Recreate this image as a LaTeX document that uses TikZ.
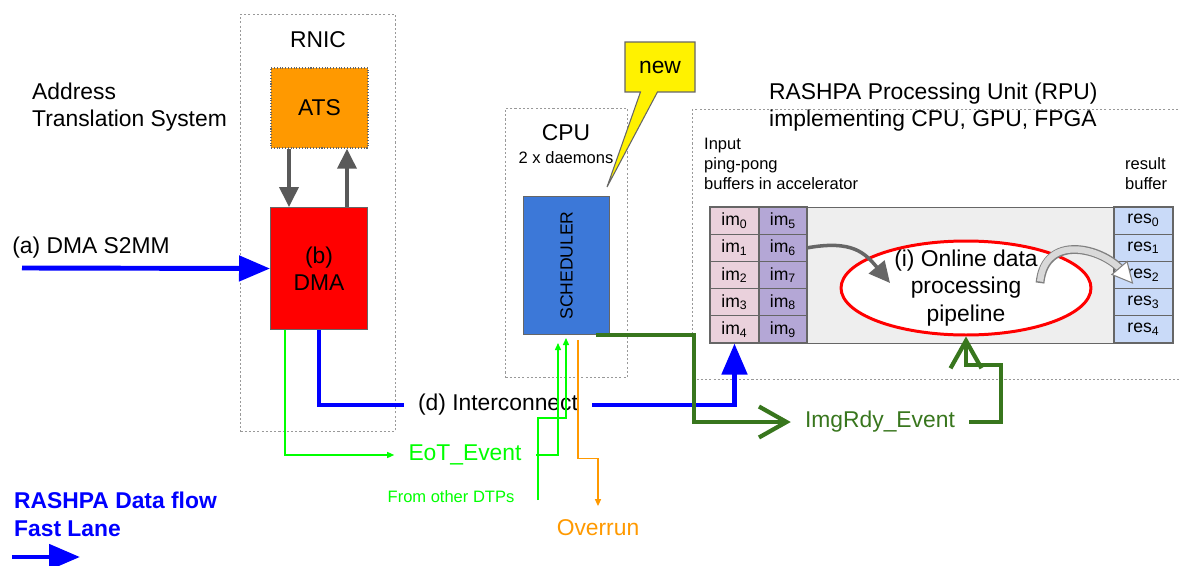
\documentclass[tikz,border=0pt]{standalone}
\usepackage{fontspec}
\setmainfont{Liberation Sans}
\usetikzlibrary{arrows.meta, positioning, shapes.geometric, shapes.callouts}

\definecolor{atsorange}{HTML}{FF9900}
\definecolor{schedblue}{HTML}{3C78D8}
\definecolor{impink}{HTML}{EAD1DC}
\definecolor{impurple}{HTML}{B4A7D6}
\definecolor{resblue}{HTML}{C9DAF8}
\definecolor{accelgray}{HTML}{EEEEEE}
\definecolor{boxline}{HTML}{666666}
\definecolor{arrowgray}{HTML}{595959}
\definecolor{rdygreen}{HTML}{38761D}
\definecolor{eotgreen}{HTML}{00FF00}
\definecolor{ovrorange}{HTML}{FF9900}

\tikzset{
  region/.style={draw=gray!80, dash pattern=on 1.2pt off 1.2pt, line width=0.5pt, anchor=north west},
  block/.style={draw=boxline, line width=0.6pt, anchor=north west, inner sep=0pt},
  cell/.style={draw=boxline, line width=0.6pt, minimum height=0.544cm, inner sep=0pt, font=\fontsize{10}{12}\selectfont},
  lbl/.style={font=\fontsize{13}{15.5}\selectfont},
  note/.style={font=\fontsize{9.4}{11.3}\selectfont},
  evt/.style={lbl, inner xsep=0.28cm, inner ysep=0.05cm},
  lane/.style={blue, line width=2.8pt, -{Triangle[length=0.62cm,width=0.5cm]}},
  lanewire/.style={blue, line width=2.8pt},
  atsarrow/.style={arrowgray, line width=2.2pt, -{Triangle[length=0.4cm,width=0.38cm]}},
  eotwire/.style={eotgreen, line width=0.6pt, -{Triangle[length=4pt,width=3.5pt]}},
  ovrwire/.style={ovrorange, line width=0.6pt, -{Triangle[length=4pt,width=3.5pt]}},
  rdywire/.style={rdygreen, line width=2.4pt, -{Straight Barb[length=0.55cm,width=0.62cm]}},
}

\begin{document}
\begin{tikzpicture}[x=0.02cm, y=-0.02cm]
\useasboundingbox (0,0) rectangle (1180,565);

% RNIC
\node[region, minimum width=3.1cm, minimum height=8.34cm] (rnic) at (240,14) {};
\node[lbl] (rnictitle) at (318,40) {RNIC};
\node[lbl, align=left, anchor=west] (atstitle) at (26,107) {Address\\Translation System};
\node[block, fill=atsorange, densely dotted, line width=1pt, minimum width=1.94cm, minimum height=1.6cm, lbl] (ats) at (270,67) {ATS};
\node[block, fill=red, minimum width=1.94cm, minimum height=2.44cm, lbl, align=center] (dma) at (270,207) {(b)\\DMA};

% CPU
\node[region, minimum width=2.44cm, minimum height=5.38cm] (cpu) at (505,108) {};
\node[lbl] (cputitle) at (566,133) {CPU};
\node[note] (daemons) at (566,158) {2 x daemons};
\node[block, fill=schedblue, minimum width=1.72cm, minimum height=2.76cm] (sched) at (523,196) {};
\node[rotate=90, font=\fontsize{10}{12}\selectfont] (schedtext) at (sched.center) {SCHEDULER};
\node[rectangle callout, draw=boxline, fill=yellow, line width=0.6pt, callout absolute pointer={(607,187)}, callout pointer width=0.34cm, minimum width=1.4cm, minimum height=1cm, lbl] (newnote) at (660,67) {new};

% RPU
\node[region, minimum width=9.96cm, minimum height=5.4cm] (rpu) at (692,109) {};
\node[lbl, align=left, anchor=west] (rputitle) at (763,107) {RASHPA Processing Unit (RPU)\\implementing CPU, GPU, FPGA};
\node[note, align=left, anchor=west] (inputnote) at (698,164) {Input\\ping-pong\\buffers in accelerator};
\node[note, align=left, anchor=west] (resnote) at (1119,174) {result\\buffer};
\node[block, fill=accelgray, minimum width=9.26cm, minimum height=2.72cm] (accel) at (710,207) {};
\foreach \i [evaluate=\i as \j using int(\i+5)] in {0,...,4} {
  \node[cell, fill=impink, minimum width=0.98cm] (im\i) at (734.5,220.6+27.2*\i) {im\textsubscript{\i}};
  \node[cell, fill=impurple, minimum width=0.96cm] (im\j) at (783,220.6+27.2*\i) {im\textsubscript{\j}};
  \node[cell, fill=resblue, minimum width=1.18cm] (res\i) at (1143.5,220.6+27.2*\i) {res\textsubscript{\i}};
}
\node[ellipse, draw=red, line width=1.7pt, fill=white, minimum width=5cm, minimum height=1.88cm] (pipe) at (966,288) {};
\node[lbl, align=center] (pipetext) at (pipe.center) {(i) Online data\\processing\\pipeline};

% labels
\node[lbl] (s2mmtext) at (91,248) {(a) DMA S2MM};
\node[evt] (inter) at (498,405) {(d) Interconnect};
\node[evt, text=eotgreen] (eot) at (465,455) {EoT\_Event};
\node[evt, text=rdygreen] (rdy) at (880,422) {ImgRdy\_Event};
\node[evt, text=ovrorange] (ovr) at (598,528) {Overrun};
\node[note, text=eotgreen] (dtp) at (451,497) {From other DTPs};
\node[font=\fontsize{13}{15.9}\selectfont\bfseries, text=blue, align=left, anchor=west] (legend) at (8,514) {RASHPA Data flow\\Fast Lane};

% connectors
\coordinate (s2mm) at (22,268);
\coordinate (dtpin) at (538,500);
\coordinate (leg0) at (12,557);
\coordinate (leg1) at (80,557);
\draw[lane] (s2mm) -- (dma.west);
\draw[atsarrow] ([xshift=0.38cm]ats.south west) -- ([xshift=0.38cm]dma.north west);
\draw[atsarrow] ([xshift=1.54cm]dma.north west) -- ([xshift=1.54cm]ats.south west);
\draw[lanewire] (dma.south) |- (inter.west);
\draw[lane] (inter.east) -| (im4.south);
\draw[eotwire] ([xshift=0.3cm]dma.south west) |- (eot.west);
\draw[eotwire] (eot.east) -| ([xshift=0.7cm,yshift=-0.16cm]sched.south west);
\draw[eotwire] (dtpin) |- ([xshift=0.86cm,yshift=-1.66cm]sched.south west) -- ([xshift=0.86cm,yshift=-0.06cm]sched.south west);
\draw[ovrwire] ([xshift=1.1cm,yshift=-0.1cm]sched.south west) |- ([yshift=1.17cm]ovr.north) -- ([yshift=0.22cm]ovr.north);
\draw[rdywire] ([xshift=-0.28cm]sched.south east) -- ++(98,0) |- (rdy.west);
\draw[rdywire] (rdy.east) -| ++(32,-57) -| (pipe.south);
\draw[lane] (leg0) -- (leg1);

% buffer arrows
\coordinate (pipein) at ([xshift=-1.52cm,yshift=0.1cm]pipe.center);
\coordinate (pipeout) at ([xshift=1.48cm,yshift=0.1cm]pipe.center);
\coordinate (resin) at ([xshift=0.38cm,yshift=-0.16cm]res2.west);
\draw[boxline, line width=2pt, -{Triangle[length=0.42cm,width=0.4cm]}] (im6.east) .. controls +(45,-8) and +(-25,-30) .. (pipein);
\draw[gray, line width=5pt, shorten >=0.34cm] (pipeout) .. controls +(5,-50) and +(-30,-35) .. (resin);
\draw[gray!30, line width=3.6pt, shorten >=0.32cm, shorten <=0.03cm] (pipeout) .. controls +(5,-50) and +(-30,-35) .. (resin);
\draw[gray, fill=white, line width=0.6pt] (resin) -- ++(-20.6,-8.5) -- ++(15.2,-13) -- cycle;
\end{tikzpicture}
\end{document}
